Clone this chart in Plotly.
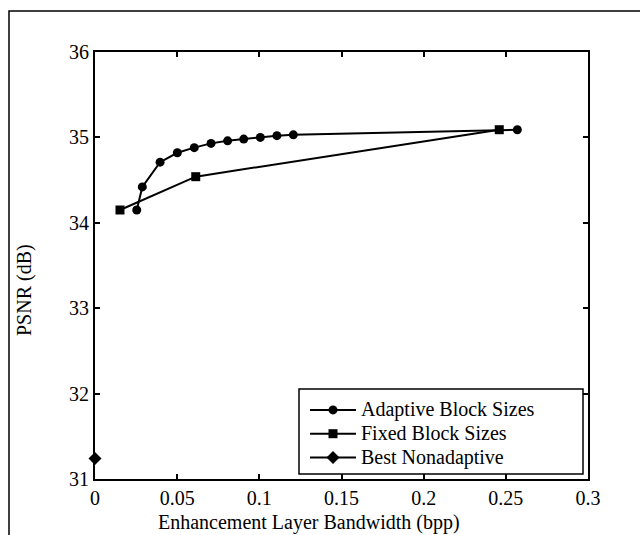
import plotly.graph_objects as go

adaptive_x = [0.0254, 0.0288, 0.0396, 0.0501, 0.0604, 0.0706, 0.0807, 0.0905, 0.1006, 0.1107, 0.1207, 0.2570]
adaptive_y = [34.15, 34.42, 34.71, 34.82, 34.88, 34.93, 34.96, 34.98, 35.00, 35.02, 35.03, 35.09]

fixed_x = [0.0152, 0.0613, 0.2460]
fixed_y = [34.15, 34.54, 35.09]

nonadaptive_x = [0.0]
nonadaptive_y = [31.24]

x_ticks = [0, 0.05, 0.1, 0.15, 0.2, 0.25, 0.3]
x_ticklabels = ["0", "0.05", "0.1", "0.15", "0.2", "0.25", "0.3"]
y_ticks = [31, 32, 33, 34, 35, 36]

FONT = "Liberation Serif, Times New Roman, serif"
FS = 20


def big(name):
    return f'<span style="font-size:{FS}px">{name}</span>'


fig = go.Figure()
fig.add_trace(go.Scatter(x=adaptive_x, y=adaptive_y, mode="lines+markers",
                         name=big("Adaptive Block Sizes"),
                         line=dict(color="black", width=2),
                         marker=dict(symbol="circle", size=9, color="black"),
                         cliponaxis=False))
fig.add_trace(go.Scatter(x=fixed_x, y=fixed_y, mode="lines+markers",
                         name=big("Fixed Block Sizes"),
                         line=dict(color="black", width=2),
                         marker=dict(symbol="square", size=9, color="black"),
                         cliponaxis=False))
fig.add_trace(go.Scatter(x=nonadaptive_x, y=nonadaptive_y, mode="lines+markers",
                         name=big("Best Nonadaptive"),
                         line=dict(color="black", width=2),
                         marker=dict(symbol="diamond", size=10, color="black"),
                         cliponaxis=False))

L, R, T, B = 95, 52, 52, 56
W, H = 640, 535
pw, ph = W - L - R, H - T - B


def px_x(x):
    return (x - L) / pw


def px_y(y):
    return 1 - (y - T) / ph


# outer frame (left and top only, like the scanned figure)
fx = px_x(9)
fy = px_y(11)
fig.add_shape(type="path", xref="paper", yref="paper",
              path=f"M {fx},-0.3 L {fx},{fy} L 1.3,{fy}",
              line=dict(color="black", width=1.5))

# legend frame
fig.add_shape(type="rect", xref="paper", yref="paper",
              x0=px_x(299), x1=px_x(583), y0=px_y(474), y1=px_y(389),
              line=dict(color="black", width=1.5), fillcolor="white", layer="above")

fig.add_annotation(text="PSNR (dB)", xref="paper", yref="paper",
                   x=px_x(24), y=px_y(290), textangle=-90, showarrow=False,
                   xanchor="center", yanchor="middle",
                   font=dict(family=FONT, size=FS, color="black"))
fig.add_annotation(text="Enhancement Layer Bandwidth (bpp)", xref="paper", yref="paper",
                   x=px_x(309), y=px_y(522), showarrow=False,
                   xanchor="center", yanchor="middle",
                   font=dict(family=FONT, size=FS, color="black"))

fig.update_layout(
    width=W, height=H,
    margin=dict(l=L, r=R, t=T, b=B, autoexpand=False),
    paper_bgcolor="white", plot_bgcolor="white",
    font=dict(family=FONT, size=FS, color="black"),
    showlegend=True,
    legend=dict(x=px_x(305), y=px_y(393), xanchor="left", yanchor="top",
                borderwidth=0, bgcolor="rgba(0,0,0,0)",
                font=dict(family=FONT, size=16, color="black"),
                tracegroupgap=0, itemwidth=46),
    xaxis=dict(range=[0, 0.3], tickvals=x_ticks, ticktext=x_ticklabels,
               showgrid=False, zeroline=False, showline=True, linecolor="black",
               linewidth=2, mirror="ticks", ticks="inside", ticklen=5,
               tickcolor="black", tickwidth=1.5, automargin=False,
               tickfont=dict(family=FONT, size=FS, color="black")),
    yaxis=dict(range=[31, 36], tickvals=y_ticks,
               showgrid=False, zeroline=False, showline=True, linecolor="black",
               linewidth=2, mirror="ticks", ticks="inside", ticklen=5,
               tickcolor="black", tickwidth=1.5, automargin=False,
               tickfont=dict(family=FONT, size=FS, color="black")),
)

fig.write_html("out.html", config={"displayModeBar": False},
               post_script="document.body.style.margin='0px';document.body.style.overflow='hidden';")
